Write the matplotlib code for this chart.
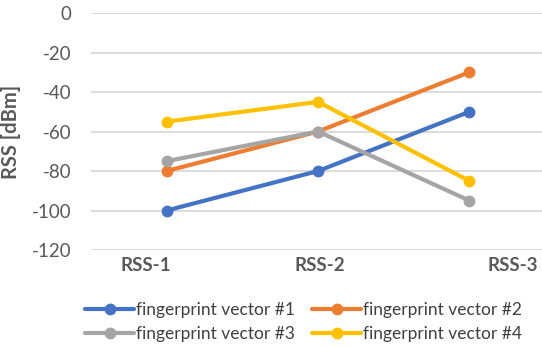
import matplotlib
matplotlib.use("Agg")
import matplotlib.pyplot as plt

plt.rcParams["font.family"] = ["Lato", "DejaVu Sans"]

categories = ["RSS-1", "RSS-2", "RSS-3"]
# label positions drift from the points in the original (hand-placed text)
label_pos = [-0.14, 1.01, 2.29]

fp1 = [-100, -80, -50]
fp2 = [-80, -60, -30]
fp3 = [-75, -60, -95]
fp4 = [-55, -45, -85]

series = [
    ("fingerprint vector #1", fp1, "#4472C4"),
    ("fingerprint vector #2", fp2, "#ED7D31"),
    ("fingerprint vector #3", fp3, "#A5A5A5"),
    ("fingerprint vector #4", fp4, "#FFC000"),
]
yticks = [0, -20, -40, -60, -80, -100, -120]

fig = plt.figure(figsize=(5.42, 3.47), dpi=100)
ax = fig.add_axes([0.168, 0.2795, 0.832, 0.683])

x = list(range(len(categories)))
lines = []
for name, vals, color in series:
    ln, = ax.plot(x, vals, color=color, lw=3, marker="o", ms=7.5, label=name,
                  solid_capstyle="round", zorder=3)
    lines.append(ln)

ax.set_xlim(-0.5, 2.48)
ax.set_ylim(-120, 0)
ax.set_yticks(yticks)
ax.set_yticklabels([str(v) for v in yticks])
ax.grid(axis="y", color="#D9D9D9", lw=1.3, zorder=0)
ax.set_axisbelow(True)
for s in ax.spines.values():
    s.set_visible(False)

ax.set_xticks(label_pos)
ax.set_xticklabels(categories, fontsize=13.5, fontweight="bold", color="#595959")
ax.tick_params(axis="x", length=0, pad=5)
ax.tick_params(axis="y", length=0, pad=14, labelsize=13.5, labelcolor="#595959")

ax.set_ylabel("RSS [dBm]", fontsize=14.5, fontweight="bold", color="#595959",
              labelpad=8)

# row-major order like the original: #1 #2 / #3 #4
order = [0, 2, 1, 3]
fig.legend([lines[i] for i in order], [series[i][0] for i in order],
           loc="lower center", bbox_to_anchor=(0.56, -0.03), ncol=2,
           frameon=False, fontsize=12.5, handlelength=2.8, handletextpad=0.1,
           columnspacing=1.0, labelspacing=0.45, labelcolor="#404040")

fig.savefig("out.png", dpi=100)
